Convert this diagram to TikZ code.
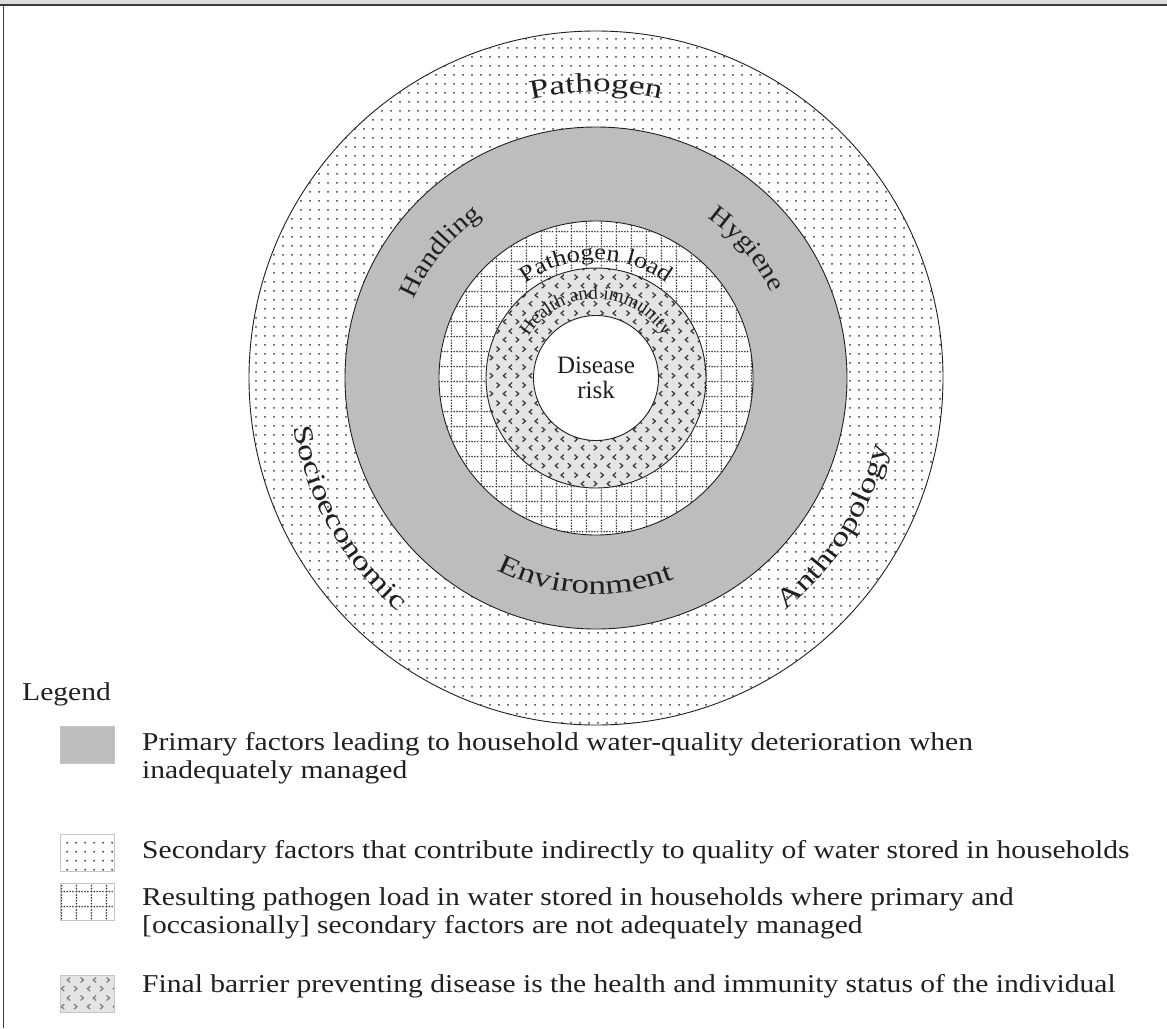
\documentclass[tikz,border=0pt]{standalone}
\usepackage{fontspec}
\setmainfont{Liberation Serif}[FakeStretch=1.15]
\newfontfamily\plainserif{Liberation Serif}
\newfontfamily\widefont{Liberation Serif}[FakeStretch=1.3]
\usetikzlibrary{patterns.meta,decorations.text}

\definecolor{inkc}{HTML}{231F20}
\definecolor{primaryc}{HTML}{BDBDBD}
\definecolor{healthc}{HTML}{E4E4E4}
\definecolor{dotc}{HTML}{3A3A3A}
\definecolor{barc}{HTML}{DCDCDC}
\definecolor{rulec}{HTML}{3C3C3C}
\definecolor{framec}{HTML}{C4C4C4}

% secondary factors: regular field of dots
\tikzdeclarepattern{
  name=dotfield,
  type=uncolored,
  bounding box={(0pt,0pt) and (9pt,8.6pt)},
  tile size={(9pt,8.6pt)},
  code={\fill (4.5pt,4.3pt) circle [radius=1.1pt];}
}
% pathogen load: grid of dotted lines
\tikzdeclarepattern{
  name=dotgrid,
  type=uncolored,
  bounding box={(0pt,0pt) and (15pt,15pt)},
  tile size={(15pt,15pt)},
  code={
    \foreach \k in {1.5,4.5,7.5,10.5,13.5}{
      \fill (\k pt,1.5pt) circle [radius=0.95pt];
      \fill (1.5pt,\k pt) circle [radius=0.95pt];
    }
  }
}
% health and immunity: rows of small chevrons
\tikzdeclarepattern{
  name=chevrons,
  type=uncolored,
  bounding box={(0pt,0pt) and (26pt,18pt)},
  tile size={(26pt,18pt)},
  code={
    \draw[line width=1.3pt] (2.6pt,16.1pt) -- (5.6pt,13.5pt) -- (2.6pt,10.9pt);
    \draw[line width=1.3pt] (18.6pt,16.1pt) -- (15.6pt,13.5pt) -- (18.6pt,10.9pt);
    \draw[line width=1.3pt] (12.6pt,7.1pt) -- (9.6pt,4.5pt) -- (12.6pt,1.9pt);
    \draw[line width=1.3pt] (22.6pt,7.1pt) -- (25.6pt,4.5pt) -- (22.6pt,1.9pt);
  }
}

\begin{document}
\begin{tikzpicture}[x=1pt,y=1pt,
  ring/.style={circle, draw=inkc, line width=0.9pt, inner sep=0pt},
  arclabel/.style={decorate, decoration={text along path, text align=center,
      text color=inkc, text={#1}}},
  swatch/.style={rectangle, draw=framec, line width=1.4pt, anchor=north west,
      minimum width=54pt, minimum height=37pt, inner sep=0pt},
  legendtext/.style={anchor=base west, inner sep=0pt, text=inkc,
      font=\fontsize{25.7pt}{28pt}\selectfont},
]
\useasboundingbox (0,0) rectangle (1167,-1028);
\fill[white] (0,0) rectangle (1167,-1028);

% frame: grey header bar, rule under it, left edge
\fill[barc] (0,0) rectangle (1167,-4.6);
\draw[rulec, line width=2pt] (0,-5.4) -- (1167,-5.4);
\draw[rulec, line width=1.8pt] (3.4,-5.4) -- (3.4,-1028);

% concentric rings, outermost first
\node[ring, minimum size=694pt, preaction={fill=white},
      pattern=dotfield, pattern color=dotc] (outerring) at (596,-378) {};
\node[ring, minimum size=502pt, fill=primaryc] (primaryring) at (outerring.center) {};
\node[ring, minimum size=314pt, preaction={fill=white},
      pattern=dotgrid, pattern color=dotc] (loadring) at (outerring.center) {};
\node[ring, minimum size=220pt, preaction={fill=healthc},
      pattern=chevrons, pattern color=dotc] (healthring) at (outerring.center) {};
\node[ring, minimum size=125pt, fill=white, align=center, text=inkc,
      font=\plainserif\fontsize{25pt}{25pt}\selectfont] (core) at (outerring.center)
      {Disease\\risk};

% curved ring labels
\path[arclabel={|\widefont\fontsize{27pt}{27pt}\selectfont|Pathogen}]
  ([shift={(150:286pt)}]core.center) arc[start angle=150, end angle=30, radius=286pt];
\path[arclabel={|\widefont\fontsize{27pt}{27pt}\selectfont|Socioeconomic}]
  ([shift={(165:306pt)}]core.center) arc[start angle=165, end angle=254, radius=306pt];
\path[arclabel={|\widefont\fontsize{27pt}{27pt}\selectfont|Anthropology}]
  ([shift={(283:300pt)}]core.center) arc[start angle=283, end angle=373, radius=300pt];
\path[arclabel={|\widefont\fontsize{27pt}{27pt}\selectfont|Environment}]
  ([shift={(217:216pt)}]core.center) arc[start angle=217, end angle=317, radius=216pt];
\path[arclabel={|\fontsize{25.5pt}{25.5pt}\selectfont|Handling}]
  ([shift={(191:198pt)}]core.center) arc[start angle=191, end angle=91, radius=198pt];
\path[arclabel={|\fontsize{25.5pt}{25.5pt}\selectfont|Hygiene}]
  ([shift={(90.5:195pt)}]core.center) arc[start angle=90.5, end angle=-9.5, radius=195pt];
\path[arclabel={|\fontsize{23pt}{23pt}\selectfont|Pathogen load}]
  ([shift={(160:118pt)}]core.center) arc[start angle=160, end angle=20, radius=118pt];
\path[arclabel={|\plainserif\fontsize{19pt}{19pt}\selectfont|Health and immunity}]
  ([shift={(179:79pt)}]core.center) arc[start angle=179, end angle=1, radius=79pt];

% legend
\node[legendtext] (legendtitle) at (22,-700) {Legend};

\node[swatch, fill=primaryc] (sw1) at (60,-726) {};
\node[legendtext] (lg1a) at (142,-750)
  {Primary factors leading to household water-quality deterioration when};
\node[legendtext] (lg1b) at (142,-778) {inadequately managed};

\node[swatch, preaction={fill=white}, pattern=dotfield, pattern color=dotc] (sw2) at (60,-834) {};
\node[legendtext] (lg2) at (142,-858)
  {Secondary factors that contribute indirectly to quality of water stored in households};

\node[swatch, preaction={fill=white}, pattern=dotgrid, pattern color=dotc] (sw3) at (60,-883) {};
\node[legendtext] (lg3a) at (142,-905)
  {Resulting pathogen load in water stored in households where primary and};
\node[legendtext] (lg3b) at (142,-933)
  {[occasionally] secondary factors are not adequately managed};

\node[swatch, preaction={fill=healthc}, pattern=chevrons, pattern color=gray] (sw4) at (60,-975) {};
\node[legendtext] (lg4) at (142,-992)
  {Final barrier preventing disease is the health and immunity status of the individual};
\end{tikzpicture}
\end{document}
